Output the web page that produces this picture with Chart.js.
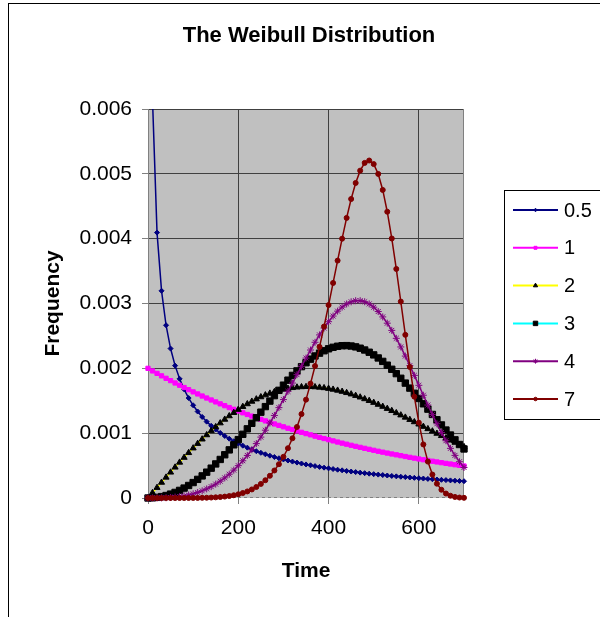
<!DOCTYPE html>
<html>
<head>
<meta charset="utf-8">
<script src="https://cdn.jsdelivr.net/npm/chart.js@4.4.1/dist/chart.umd.min.js"></script>
<style>
html, body { margin: 0; padding: 0; background: #fff; }
</style>
</head>
<body>
<canvas id="chart" width="600" height="617"></canvas>
<script>
// ----------------------------------------------------------------------
// values, one point every 10 time units
const times = [0,10,20,30,40,50,60,70,80,90,100,110,120,130,140,150,160,170,180,190,
    200,210,220,230,240,250,260,270,280,290,300,310,320,330,340,350,360,370,380,390,
    400,410,420,430,440,450,460,470,480,490,500,510,520,530,540,550,560,570,580,590,
    600,610,620,630,640,650,660,670,680,690,700]

const shape05 = [null,0.006139,0.0040937,0.0031955,0.0026645,0.0023049,0.0020415,0.0018383,0.0016758,0.0015421,
    0.0014297,0.0013338,0.0012506,0.0011778,0.0011133,0.0010558,0.001004,0.0009572,0.0009147,0.0008758,
    0.00084,0.0008071,0.0007766,0.0007483,0.0007219,0.0006973,0.0006742,0.0006526,0.0006323,0.0006131,
    0.000595,0.0005779,0.0005617,0.0005463,0.0005316,0.0005177,0.0005045,0.0004918,0.0004797,0.0004682,
    0.0004571,0.0004465,0.0004363,0.0004266,0.0004172,0.0004082,0.0003995,0.0003912,0.0003831,0.0003754,
    0.0003679,0.0003607,0.0003537,0.0003469,0.0003404,0.000334,0.0003279,0.000322,0.0003162,0.0003107,
    0.0003053,0.0003,0.0002949,0.0002899,0.0002851,0.0002804,0.0002759,0.0002715,0.0002672,0.000263,
    0.0002589]

const shape1 = [0.002,0.00196,0.001922,0.001884,0.001846,0.00181,0.001774,0.001739,0.001704,0.001671,
    0.001637,0.001605,0.001573,0.001542,0.001512,0.001482,0.001452,0.001424,0.001395,0.001368,
    0.001341,0.001314,0.001288,0.001263,0.001238,0.001213,0.001189,0.001166,0.001142,0.00112,
    0.001098,0.001076,0.001055,0.001034,0.001013,0.000993,0.000974,0.000954,0.000935,0.000917,
    0.000899,0.000881,0.000863,0.000846,0.00083,0.000813,0.000797,0.000781,0.000766,0.000751,
    0.000736,0.000721,0.000707,0.000693,0.000679,0.000666,0.000653,0.00064,0.000627,0.000615,
    0.000602,0.00059,0.000579,0.000567,0.000556,0.000545,0.000534,0.000524,0.000513,0.000503,
    0.000493]

const shape2 = [0,0.00008,0.0001597,0.0002391,0.000318,0.000396,0.0004731,0.0005491,0.0006238,0.000697,
    0.0007686,0.0008384,0.0009063,0.000972,0.0010355,0.0010967,0.0011554,0.0012115,0.001265,0.0013156,
    0.0013634,0.0014083,0.0014502,0.0014891,0.0015249,0.0015576,0.0015872,0.0016137,0.001637,0.0016572,
    0.0016744,0.0016886,0.0016996,0.0017078,0.001713,0.0017154,0.001715,0.0017119,0.0017062,0.001698,
    0.0016873,0.0016743,0.0016592,0.0016419,0.0016226,0.0016015,0.0015786,0.001554,0.0015279,0.0015003,
    0.0014715,0.0014415,0.0014104,0.0013784,0.0013456,0.0013121,0.0012778,0.0012431,0.0012081,0.0011728,
    0.0011373,0.0011016,0.0010659,0.0010303,0.0009948,0.0009595,0.0009245,0.0008899,0.0008557,0.000822,
    0.0007888]

const shape3 = [0,0.0000024,0.0000096,0.0000216,0.0000384,0.0000599,0.0000863,0.0001173,0.000153,0.0001933,
    0.0002381,0.0002873,0.0003409,0.0003985,0.0004602,0.0005256,0.0005946,0.0006669,0.0007422,0.0008201,
    0.0009005,0.0009828,0.0010667,0.0011518,0.0012377,0.0013238,0.0014096,0.0014947,0.0015785,0.0016606,
    0.0017404,0.0018173,0.0018909,0.0019606,0.0020259,0.0020863,0.0021415,0.0021909,0.0022343,0.0022712,
    0.0023013,0.0023245,0.0023405,0.0023492,0.0023505,0.0023444,0.002331,0.0023104,0.0022828,0.0022483,
    0.0022073,0.0021601,0.0021072,0.0020489,0.0019857,0.0019182,0.0018468,0.0017722,0.001695,0.0016156,
    0.0015347,0.0014529,0.0013706,0.0012886,0.0012072,0.0011269,0.0010482,0.0009713,0.0008969,0.0008251,
    0.0007562]

const shape4 = [0,0.0000001,0.0000005,0.0000017,0.0000041,0.000008,0.0000138,0.0000219,0.0000328,0.0000466,
    0.0000639,0.000085,0.0001102,0.00014,0.0001745,0.0002143,0.0002594,0.0003103,0.000367,0.0004299,
    0.0004991,0.0005745,0.0006564,0.0007446,0.000839,0.0009394,0.0010455,0.001157,0.0012733,0.0013939,
    0.001518,0.0016447,0.0017732,0.0019025,0.0020313,0.0021583,0.0022823,0.0024018,0.0025155,0.0026218,
    0.0027194,0.0028066,0.0028821,0.0029446,0.0029929,0.003026,0.0030432,0.0030437,0.0030271,0.0029935,
    0.002943,0.0028761,0.0027934,0.0026962,0.0025853,0.0024627,0.00233,0.002189,0.0020418,0.0018908,
    0.001738,0.001585,0.0014338,0.0012865,0.0011452,0.0010106,0.0008837,0.0007657,0.0006574,0.0005593,
    0.0004711]

const shape7 = [0,0,0,0,0,0,0,0.0000001,0.0000002,0.0000005,
    0.0000009,0.0000016,0.0000027,0.0000043,0.0000068,0.0000102,0.000015,0.0000216,0.0000305,0.0000421,
    0.0000573,0.0000767,0.0001013,0.000132,0.0001702,0.0002171,0.000274,0.0003425,0.0004244,0.0005213,
    0.0006352,0.0007677,0.0009207,0.0010957,0.0012941,0.0015169,0.0017643,0.0020358,0.0023311,0.0026452,
    0.0029758,0.003317,0.0036614,0.0039998,0.0043206,0.0046119,0.0048593,0.0050494,0.0051689,0.0052055,
    0.0051503,0.0049984,0.0047514,0.0044153,0.0040027,0.003533,0.0030295,0.0025165,0.002021,0.0015631,
    0.0011621,0.0008263,0.0005611,0.0003617,0.0002209,0.0001272,0.0000687,0.0000346,0.0000162,0.000007,
    0.0000028]

const seriesNames = ["0.5","1","2","3","4","7"]
const xTicks = [0,200,400,600]
const yTicks = [0,0.001,0.002,0.003,0.004,0.005,0.006]

// ----------------------------------------------------------------------
const FONT = "'Liberation Sans', Arial, sans-serif"
const pts = (vals) => vals.map((v, i) => ({x: times[i], y: v}))

function series(i, vals, line, marker, style, r)
{
    return {
        label: seriesNames[i],
        data: pts(vals),
        borderColor: line,
        borderWidth: 1.5,
        pointStyle: style,
        pointRadius: r,
        pointBackgroundColor: marker,
        pointBorderColor: marker,
        pointBorderWidth: 1,
        tension: 0,
        order: 6 - i,
        clip: {left: 6, right: 6, top: 0, bottom: 6}
    }
}

const sheet = {
    id: 'sheet',
    beforeDraw(chart) {
        const {ctx, chartArea: a} = chart
        ctx.save()
        ctx.fillStyle = '#fff'
        ctx.fillRect(0, 0, chart.width, chart.height)
        ctx.strokeStyle = '#000'
        ctx.lineWidth = 1
        ctx.strokeRect(8.5, 3.5, 800, 800)
        ctx.fillStyle = '#c0c0c0'
        ctx.fillRect(a.left, a.top, a.right - a.left, a.bottom - a.top)
        ctx.restore()
    },
    beforeDatasetsDraw(chart) {
        // right edge of the plot and the dashed time axis
        const {ctx, chartArea: a} = chart
        const r = Math.round(a.right) - 0.5
        const b = Math.round(a.bottom) - 0.5
        ctx.save()
        ctx.strokeStyle = '#808080'
        ctx.lineWidth = 1
        ctx.beginPath()
        ctx.moveTo(r, a.top)
        ctx.lineTo(r, a.bottom)
        ctx.stroke()
        ctx.setLineDash([3, 3])
        ctx.beginPath()
        ctx.moveTo(a.left, b)
        ctx.lineTo(a.right, b)
        ctx.stroke()
        ctx.restore()
    },
    afterDraw(chart) {
        const ctx = chart.ctx
        ctx.save()
        ctx.fillStyle = '#000'
        ctx.font = "bold 22px " + FONT
        ctx.textAlign = 'center'
        ctx.textBaseline = 'middle'
        ctx.fillText('The Weibull Distribution', 309, 36)

        // legend box
        ctx.strokeStyle = '#000'
        ctx.lineWidth = 1
        ctx.strokeRect(504.5, 190.5, 200, 229)
        ctx.font = "20px " + FONT
        ctx.textAlign = 'left'
        chart.data.datasets.forEach((ds, i) => {
            const y = 210 + i * 37.8
            ctx.strokeStyle = ds.borderColor
            ctx.lineWidth = 2
            ctx.beginPath()
            ctx.moveTo(513, y)
            ctx.lineTo(558, y)
            ctx.stroke()
            ctx.fillStyle = ds.pointBackgroundColor
            ctx.strokeStyle = ds.pointBorderColor
            ctx.lineWidth = 1
            Chart.helpers.drawPoint(ctx, {pointStyle: ds.pointStyle, radius: ds.pointRadius * 0.7, rotation: 0, borderWidth: 1}, 535.5, y)
            ctx.fillStyle = '#000'
            ctx.fillText(ds.label, 564, y + 1)
        })
        ctx.restore()
    }
}

const config = {
    type: 'line',
    data: {
        datasets: [
            series(0, shape05, '#000080', '#000080', 'rectRot', 2.5),
            series(1, shape1, '#ff00ff', '#ff00ff', 'rect', 3),
            series(2, shape2, '#ffff00', '#000000', 'triangle', 3.5),
            series(3, shape3, '#00ffff', '#000000', 'rect', 4.5),
            series(4, shape4, '#800080', '#800080', 'star', 3.5),
            series(5, shape7, '#800000', '#800000', 'circle', 2.5)
        ]
    },
    options: {
        responsive: false,
        animation: false,
        layout: {padding: {top: 109, right: 136, bottom: 0, left: 0}},
        plugins: {legend: {display: false}, title: {display: false}, tooltip: {enabled: false}},
        scales: {
            x: {
                type: 'linear', min: 0, max: 700,
                afterBuildTicks: (s) => { s.ticks = xTicks.map(v => ({value: v})) },
                afterFit: (s) => { s.height = 119 },
                ticks: {font: {family: FONT, size: 21}, color: '#000', padding: 12, maxRotation: 0},
                grid: {
                    color: (c) => (c.tick && c.tick.value === 0) ? 'rgba(0,0,0,0)' : '#404040',
                    tickColor: '#808080', tickLength: 6
                },
                border: {display: false},
                title: {display: true, text: 'Time', color: '#000', font: {family: FONT, size: 21, weight: 'bold'}, padding: {bottom: 33}}
            },
            y: {
                min: 0, max: 0.006,
                afterBuildTicks: (s) => { s.ticks = yTicks.map(v => ({value: v})) },
                afterFit: (s) => { s.width = 148 },
                ticks: {font: {family: FONT, size: 21}, color: '#000', padding: 10,
                    callback: (v) => String(+v.toFixed(3))},
                grid: {
                    color: (c) => (c.tick && c.tick.value === 0) ? 'rgba(0,0,0,0)' : '#404040',
                    tickColor: '#808080', tickLength: 6
                },
                border: {color: '#808080'},
                title: {display: true, text: 'Frequency', color: '#000', font: {family: FONT, size: 21, weight: 'bold'}, padding: {top: 41}}
            }
        }
    },
    plugins: [sheet]
}

const chart = new Chart(document.getElementById('chart'), config)
</script>
</body>
</html>
